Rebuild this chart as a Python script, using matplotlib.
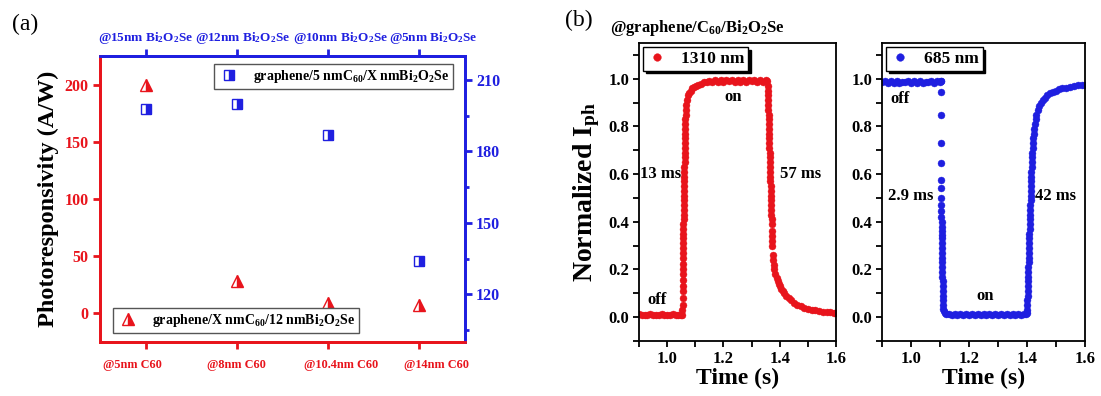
import numpy as np
import matplotlib
matplotlib.use("Agg")
import matplotlib.pyplot as plt
from matplotlib.ticker import MultipleLocator

RED = "#E8141C"
BLUE = "#1F1FE0"

plt.rcParams.update({
    "font.family": "Liberation Serif",
    "font.weight": "bold",
    "mathtext.fontset": "custom",
    "mathtext.rm": "Liberation Serif:bold",
    "mathtext.it": "Liberation Serif:italic:bold",
    "mathtext.bf": "Liberation Serif:bold",
})

# ---- panel (a) data ----
c60_labels = ["@5nm C60", "@8nm C60", "@10.4nm C60", "@14nm C60"]
bi_labels = [r"@15nm Bi$_2$O$_2$Se", r"@12nm Bi$_2$O$_2$Se",
             r"@10nm Bi$_2$O$_2$Se", r"@5nm Bi$_2$O$_2$Se"]
resp_c60 = [200, 28, 9, 7]          # graphene/X nm C60/12 nm Bi2O2Se  (left axis)
resp_bi = [197.8, 200.0, 187.0, 133.8]  # graphene/5 nm C60/X nm Bi2O2Se (right axis)

# ---- panel (b) data: 1310 nm ----
red_time = [0.90, 0.91, 0.92, 0.93, 0.94, 0.95, 0.96, 0.97, 0.98, 0.99, 1.00, 1.01,
            1.02, 1.03, 1.04, 1.05, 1.053,
            1.0545, 1.0547, 1.0549, 1.0551, 1.0553, 1.0555, 1.0557, 1.0559, 1.0561,
            1.0563, 1.0565, 1.0567, 1.0569, 1.0571, 1.0573,
            1.0575, 1.0578, 1.0581, 1.0584, 1.0587, 1.059, 1.0593, 1.0596, 1.0599,
            1.0602, 1.0605, 1.0608, 1.0611, 1.0614, 1.0617, 1.062, 1.0623, 1.0626,
            1.0629, 1.0632, 1.0636, 1.064, 1.0644, 1.0648, 1.0652, 1.0657,
            1.068, 1.071, 1.075, 1.079, 1.084, 1.090, 1.096, 1.103, 1.110, 1.120,
            1.130, 1.140, 1.150,
            1.16, 1.17, 1.18, 1.19, 1.20, 1.21, 1.22, 1.23, 1.24, 1.25, 1.26, 1.27,
            1.28, 1.29, 1.30, 1.31, 1.32, 1.33, 1.34, 1.35, 1.356,
            1.3572, 1.3577, 1.3582, 1.3587, 1.3592, 1.3597, 1.3602, 1.3607, 1.3612,
            1.3617, 1.3622, 1.3627, 1.3632, 1.3637, 1.3642, 1.3647, 1.3652, 1.3657,
            1.3662, 1.3667, 1.3672, 1.3677, 1.3682, 1.3687, 1.3692, 1.3697,
            1.3702, 1.3707, 1.3712, 1.3717,
            1.372, 1.3725, 1.373, 1.3735, 1.375, 1.376, 1.378, 1.381, 1.385, 1.389,
            1.393, 1.397, 1.401, 1.406, 1.411, 1.417, 1.424, 1.432, 1.441, 1.452,
            1.463, 1.475, 1.487, 1.500, 1.513, 1.527, 1.540, 1.553, 1.567, 1.580,
            1.593, 1.600]
red_norm = [0.012, 0.010, 0.011, 0.009, 0.012, 0.010, 0.011, 0.010, 0.012, 0.009, 0.011,
            0.010, 0.012, 0.010, 0.011, 0.010, 0.008,
            0.03, 0.05, 0.08, 0.11, 0.13, 0.155, 0.18, 0.20, 0.225, 0.25, 0.27, 0.29,
            0.31, 0.33, 0.35,
            0.37, 0.39, 0.41, 0.43, 0.45, 0.47, 0.49, 0.51, 0.53, 0.55, 0.57, 0.59,
            0.61, 0.63, 0.65, 0.67, 0.69, 0.71, 0.73, 0.75, 0.77, 0.79, 0.81, 0.83,
            0.85, 0.87,
            0.89, 0.91, 0.93, 0.94, 0.95, 0.96, 0.965, 0.97, 0.975, 0.98,
            0.985, 0.988, 0.990,
            0.985, 0.995, 0.988, 0.993, 0.986, 0.994, 0.989, 0.995, 0.987, 0.993,
            0.988, 0.995, 0.986, 0.994, 0.989, 0.993, 0.987, 0.995, 0.988, 0.994,
            0.990,
            0.97, 0.95, 0.93, 0.91, 0.89, 0.87, 0.85, 0.83, 0.81, 0.79, 0.77, 0.75,
            0.73, 0.71, 0.69, 0.67, 0.65, 0.63, 0.61, 0.59, 0.57, 0.55, 0.53, 0.51,
            0.49, 0.47, 0.45, 0.43, 0.41, 0.39,
            0.36, 0.34, 0.32, 0.30, 0.26, 0.24, 0.22, 0.20, 0.18, 0.165,
            0.15, 0.14, 0.13, 0.12, 0.11, 0.10, 0.09, 0.08, 0.07, 0.06,
            0.052, 0.045, 0.040, 0.035, 0.031, 0.028, 0.025, 0.023, 0.021, 0.020,
            0.019, 0.018]

# ---- panel (b) data: 685 nm ----
blue_time = [0.90, 0.91, 0.92, 0.93, 0.94, 0.95, 0.96, 0.97, 0.98, 0.99, 1.00, 1.01,
             1.02, 1.03, 1.04, 1.05, 1.06, 1.07, 1.08, 1.09, 1.10, 1.1025,
             1.1030, 1.1032, 1.1034, 1.1036, 1.1038, 1.1040, 1.1042, 1.1044, 1.1046,
             1.1048, 1.1050, 1.1052, 1.1054, 1.1056, 1.1058, 1.1060,
             1.1063, 1.1066, 1.1069, 1.1072, 1.1075, 1.1078, 1.1081, 1.1084, 1.1087,
             1.1090, 1.1093, 1.1096, 1.1099, 1.1102,
             1.111, 1.113, 1.116, 1.120, 1.130,
             1.14, 1.15, 1.16, 1.17, 1.18, 1.19, 1.20, 1.21, 1.22, 1.23, 1.24, 1.25,
             1.26, 1.27, 1.28, 1.29, 1.30, 1.31, 1.32, 1.33, 1.34, 1.35, 1.36, 1.37,
             1.38, 1.39, 1.396, 1.399,
             1.4005, 1.401, 1.4015, 1.402, 1.4025, 1.403, 1.4035, 1.404, 1.4045,
             1.405, 1.4055, 1.406, 1.4065, 1.407, 1.4075, 1.408, 1.4085, 1.409,
             1.4095, 1.410, 1.4105, 1.411, 1.4115, 1.412, 1.4125, 1.413, 1.4135,
             1.414, 1.4145, 1.415, 1.4155, 1.416, 1.417, 1.418, 1.419, 1.4205,
             1.422, 1.4235, 1.425, 1.427, 1.4295, 1.4325, 1.437, 1.442, 1.449,
             1.455, 1.462, 1.470, 1.480, 1.490, 1.500, 1.510, 1.522, 1.535, 1.548,
             1.562, 1.575, 1.588, 1.600]
blue_norm = [0.985, 0.990, 0.982, 0.989, 0.984, 0.991, 0.983, 0.988, 0.985, 0.990,
             0.982, 0.989, 0.984, 0.991, 0.983, 0.988, 0.985, 0.990, 0.982, 0.989,
             0.986, 0.990,
             0.99, 0.945, 0.85, 0.73, 0.645, 0.575, 0.54, 0.50, 0.47, 0.445, 0.42,
             0.40, 0.38, 0.36, 0.345, 0.33,
             0.31, 0.29, 0.27, 0.25, 0.23, 0.21, 0.19, 0.17, 0.15, 0.13, 0.11, 0.09,
             0.07, 0.05,
             0.035, 0.025, 0.018, 0.015, 0.012,
             0.010, 0.014, 0.009, 0.013, 0.010, 0.014, 0.009, 0.012, 0.010, 0.014,
             0.009, 0.013, 0.010, 0.014, 0.009, 0.012, 0.010, 0.014, 0.009, 0.013,
             0.010, 0.014, 0.009, 0.012, 0.010, 0.014, 0.012, 0.018,
             0.03, 0.05, 0.07, 0.09, 0.11, 0.13, 0.15, 0.17, 0.19, 0.21, 0.23, 0.25,
             0.27, 0.29, 0.31, 0.33, 0.35, 0.37, 0.39, 0.41, 0.43, 0.45, 0.47, 0.49,
             0.51, 0.53, 0.55, 0.57, 0.59, 0.61, 0.63, 0.65, 0.67, 0.69, 0.71, 0.73,
             0.75, 0.77, 0.79, 0.81, 0.83, 0.85, 0.87, 0.885, 0.90, 0.91, 0.92, 0.93,
             0.94, 0.945, 0.95, 0.955, 0.96, 0.963, 0.966, 0.969, 0.972, 0.974, 0.975]


def style_ticks(ax, color, size=11.5):
    for lab in ax.get_yticklabels():
        lab.set_color(color)
        lab.set_fontsize(size)
        lab.set_fontweight("bold")


fig = plt.figure(figsize=(11.01, 3.96), dpi=100)

# ================= panel (a) =================
ax = fig.add_axes([0.0908, 0.1364, 0.3315, 0.7222])
ax_r = ax.twinx()
xpos = np.arange(1, len(c60_labels) + 1)

ax.plot(xpos, resp_c60, ls="none", marker="^", ms=9, color=RED, mec=RED,
        fillstyle="right", markerfacecoloralt="white", mew=1.0,
        label=r"graphene/X nmC$_{60}$/12 nmBi$_2$O$_2$Se")
ax_r.plot(xpos, resp_bi, ls="none", marker="s", ms=7, color=BLUE, mec=BLUE,
          fillstyle="right", markerfacecoloralt="white", mew=1.0,
          label=r"graphene/5 nmC$_{60}$/X nmBi$_2$O$_2$Se")

ax.set_xlim(0.5, 4.5)
ax.set_ylim(-25, 225)
ax_r.set_ylim(100, 220)
ax.set_yticks([0, 50, 100, 150, 200])
ax_r.set_yticks([120, 150, 180, 210])
ax_r.yaxis.set_minor_locator(MultipleLocator(15))
ax.set_xticks(xpos, [""] * len(xpos))
ax.tick_params(axis="x", direction="out", length=5, width=2, color=RED)
ax.tick_params(axis="y", direction="out", length=5, width=2, color=RED, pad=3)
ax_r.tick_params(axis="y", which="both", direction="out", width=2, color=BLUE, pad=3)
ax_r.tick_params(axis="y", which="major", length=5)
ax_r.tick_params(axis="y", which="minor", length=3)
style_ticks(ax, RED)
style_ticks(ax_r, BLUE)

top = ax.secondary_xaxis("top")
top.set_xticks(xpos, [""] * len(xpos))
top.tick_params(direction="out", length=5, width=2, color=BLUE)
top.spines["top"].set_color(BLUE)
top.spines["top"].set_linewidth(2)

# category labels are spread a little wider than the ticks in the original
bottom_lab_x = [0.088, 0.373, 0.660, 0.923]
top_lab_x = [0.126, 0.392, 0.660, 0.912]
for lx, lab in zip(bottom_lab_x, c60_labels):
    ax.text(lx, -0.08, lab, transform=ax.transAxes, ha="center", va="center",
            color=RED, fontsize=8.8, fontweight="bold")
for lx, lab in zip(top_lab_x, bi_labels):
    ax.text(lx, 1.063, lab, transform=ax.transAxes, ha="center", va="center",
            color=BLUE, fontsize=9.5, fontweight="bold")

for a in (ax, ax_r):
    a.spines["left"].set_color(RED)
    a.spines["bottom"].set_color(RED)
    a.spines["top"].set_color(BLUE)
    a.spines["right"].set_color(BLUE)
    for s in a.spines.values():
        s.set_linewidth(2)

ax.set_ylabel("Photoresponsivity (A/W)", fontsize=17.5, fontweight="bold")
ax.yaxis.set_label_coords(-0.112, 0.5)

leg_kw = dict(frameon=True, fancybox=False, edgecolor="#555555", framealpha=1,
              prop=dict(family="Liberation Serif", weight="bold", size=10),
              handletextpad=0.9, borderpad=0.3, handlelength=1.6, borderaxespad=0)
lg_b = ax_r.legend(loc="upper right", bbox_to_anchor=(0.967, 0.972), **leg_kw)
lg_b.get_frame().set_linewidth(1)
lg_r = ax.legend(loc="lower left", bbox_to_anchor=(0.036, 0.031), **leg_kw)
lg_r.get_frame().set_linewidth(1)

fig.text(12 / 1101, 1 - 24 / 396, "(a)", fontsize=17, fontweight="normal", va="center")

# ================= panel (b) =================
ax1 = fig.add_axes([0.5804, 0.1389, 0.1789, 0.7525])
ax2 = fig.add_axes([0.8011, 0.1389, 0.1844, 0.7525])

ax1.plot(red_time, red_norm, ls="none", marker="o", ms=5, color=RED, mec=RED,
         mew=0.3, label="1310 nm")
ax2.plot(blue_time, blue_norm, ls="none", marker="o", ms=5, color=BLUE, mec=BLUE,
         mew=0.3, label="685 nm")

for a in (ax1, ax2):
    a.set_xlim(0.9, 1.6)
    a.set_ylim(-0.1, 1.15)
    a.set_xticks([1.0, 1.2, 1.4, 1.6])
    a.set_yticks([0.0, 0.2, 0.4, 0.6, 0.8, 1.0])
    a.xaxis.set_minor_locator(MultipleLocator(0.1))
    a.yaxis.set_minor_locator(MultipleLocator(0.1))
    a.tick_params(which="both", direction="out", width=1.3, labelsize=12,
                  top=False, right=False, pad=3, length=4)
    a.set_xticklabels(["1.0", "1.2", "1.4", "1.6"], fontweight="bold")
    a.set_yticklabels(["0.0", "0.2", "0.4", "0.6", "0.8", "1.0"], fontweight="bold")
    for s in a.spines.values():
        s.set_linewidth(1.3)
    a.set_xlabel("Time (s)", fontsize=17, fontweight="bold")
    a.xaxis.set_label_coords(0.5, -0.09)
    lg = a.legend(loc="upper left", bbox_to_anchor=(0.02, 0.985), frameon=True,
                  fancybox=False, edgecolor="black", framealpha=1,
                  shadow={"color": "black", "alpha": 1},
                  prop=dict(family="Liberation Serif", weight="bold", size=12.5),
                  handlelength=1.2, handletextpad=0.8, borderpad=0.2,
                  borderaxespad=0, markerscale=1.1)
    lg.get_frame().set_linewidth(1)

ax1.set_ylabel(r"Normalized I$_{\mathrm{ph}}$", fontsize=20, fontweight="bold")
ax1.yaxis.set_label_coords(-0.19, 0.5)

txt = dict(fontsize=12, fontweight="bold", color="black")
ax1.text(0.905, 0.6, "13 ms", ha="left", va="center", **txt)
ax1.text(1.40, 0.6, "57 ms", ha="left", va="center", **txt)
ax1.text(1.235, 0.925, "on", ha="center", va="center", **txt)
ax1.text(0.93, 0.07, "off", ha="left", va="center", **txt)
ax2.text(0.93, 0.915, "off", ha="left", va="center", **txt)
ax2.text(0.92, 0.51, "2.9 ms", ha="left", va="center", **txt)
ax2.text(1.428, 0.51, "42 ms", ha="left", va="center", **txt)
ax2.text(1.255, 0.09, "on", ha="center", va="center", **txt)

fig.text(565 / 1101, 1 - 20 / 396, "(b)", fontsize=17, fontweight="normal", va="center")
fig.text(610 / 1101, 1 - 28 / 396, r"@graphene/C$_{60}$/Bi$_2$O$_2$Se",
         fontsize=12, fontweight="bold", va="center")

fig.savefig("out.png", dpi=100, facecolor="white")
